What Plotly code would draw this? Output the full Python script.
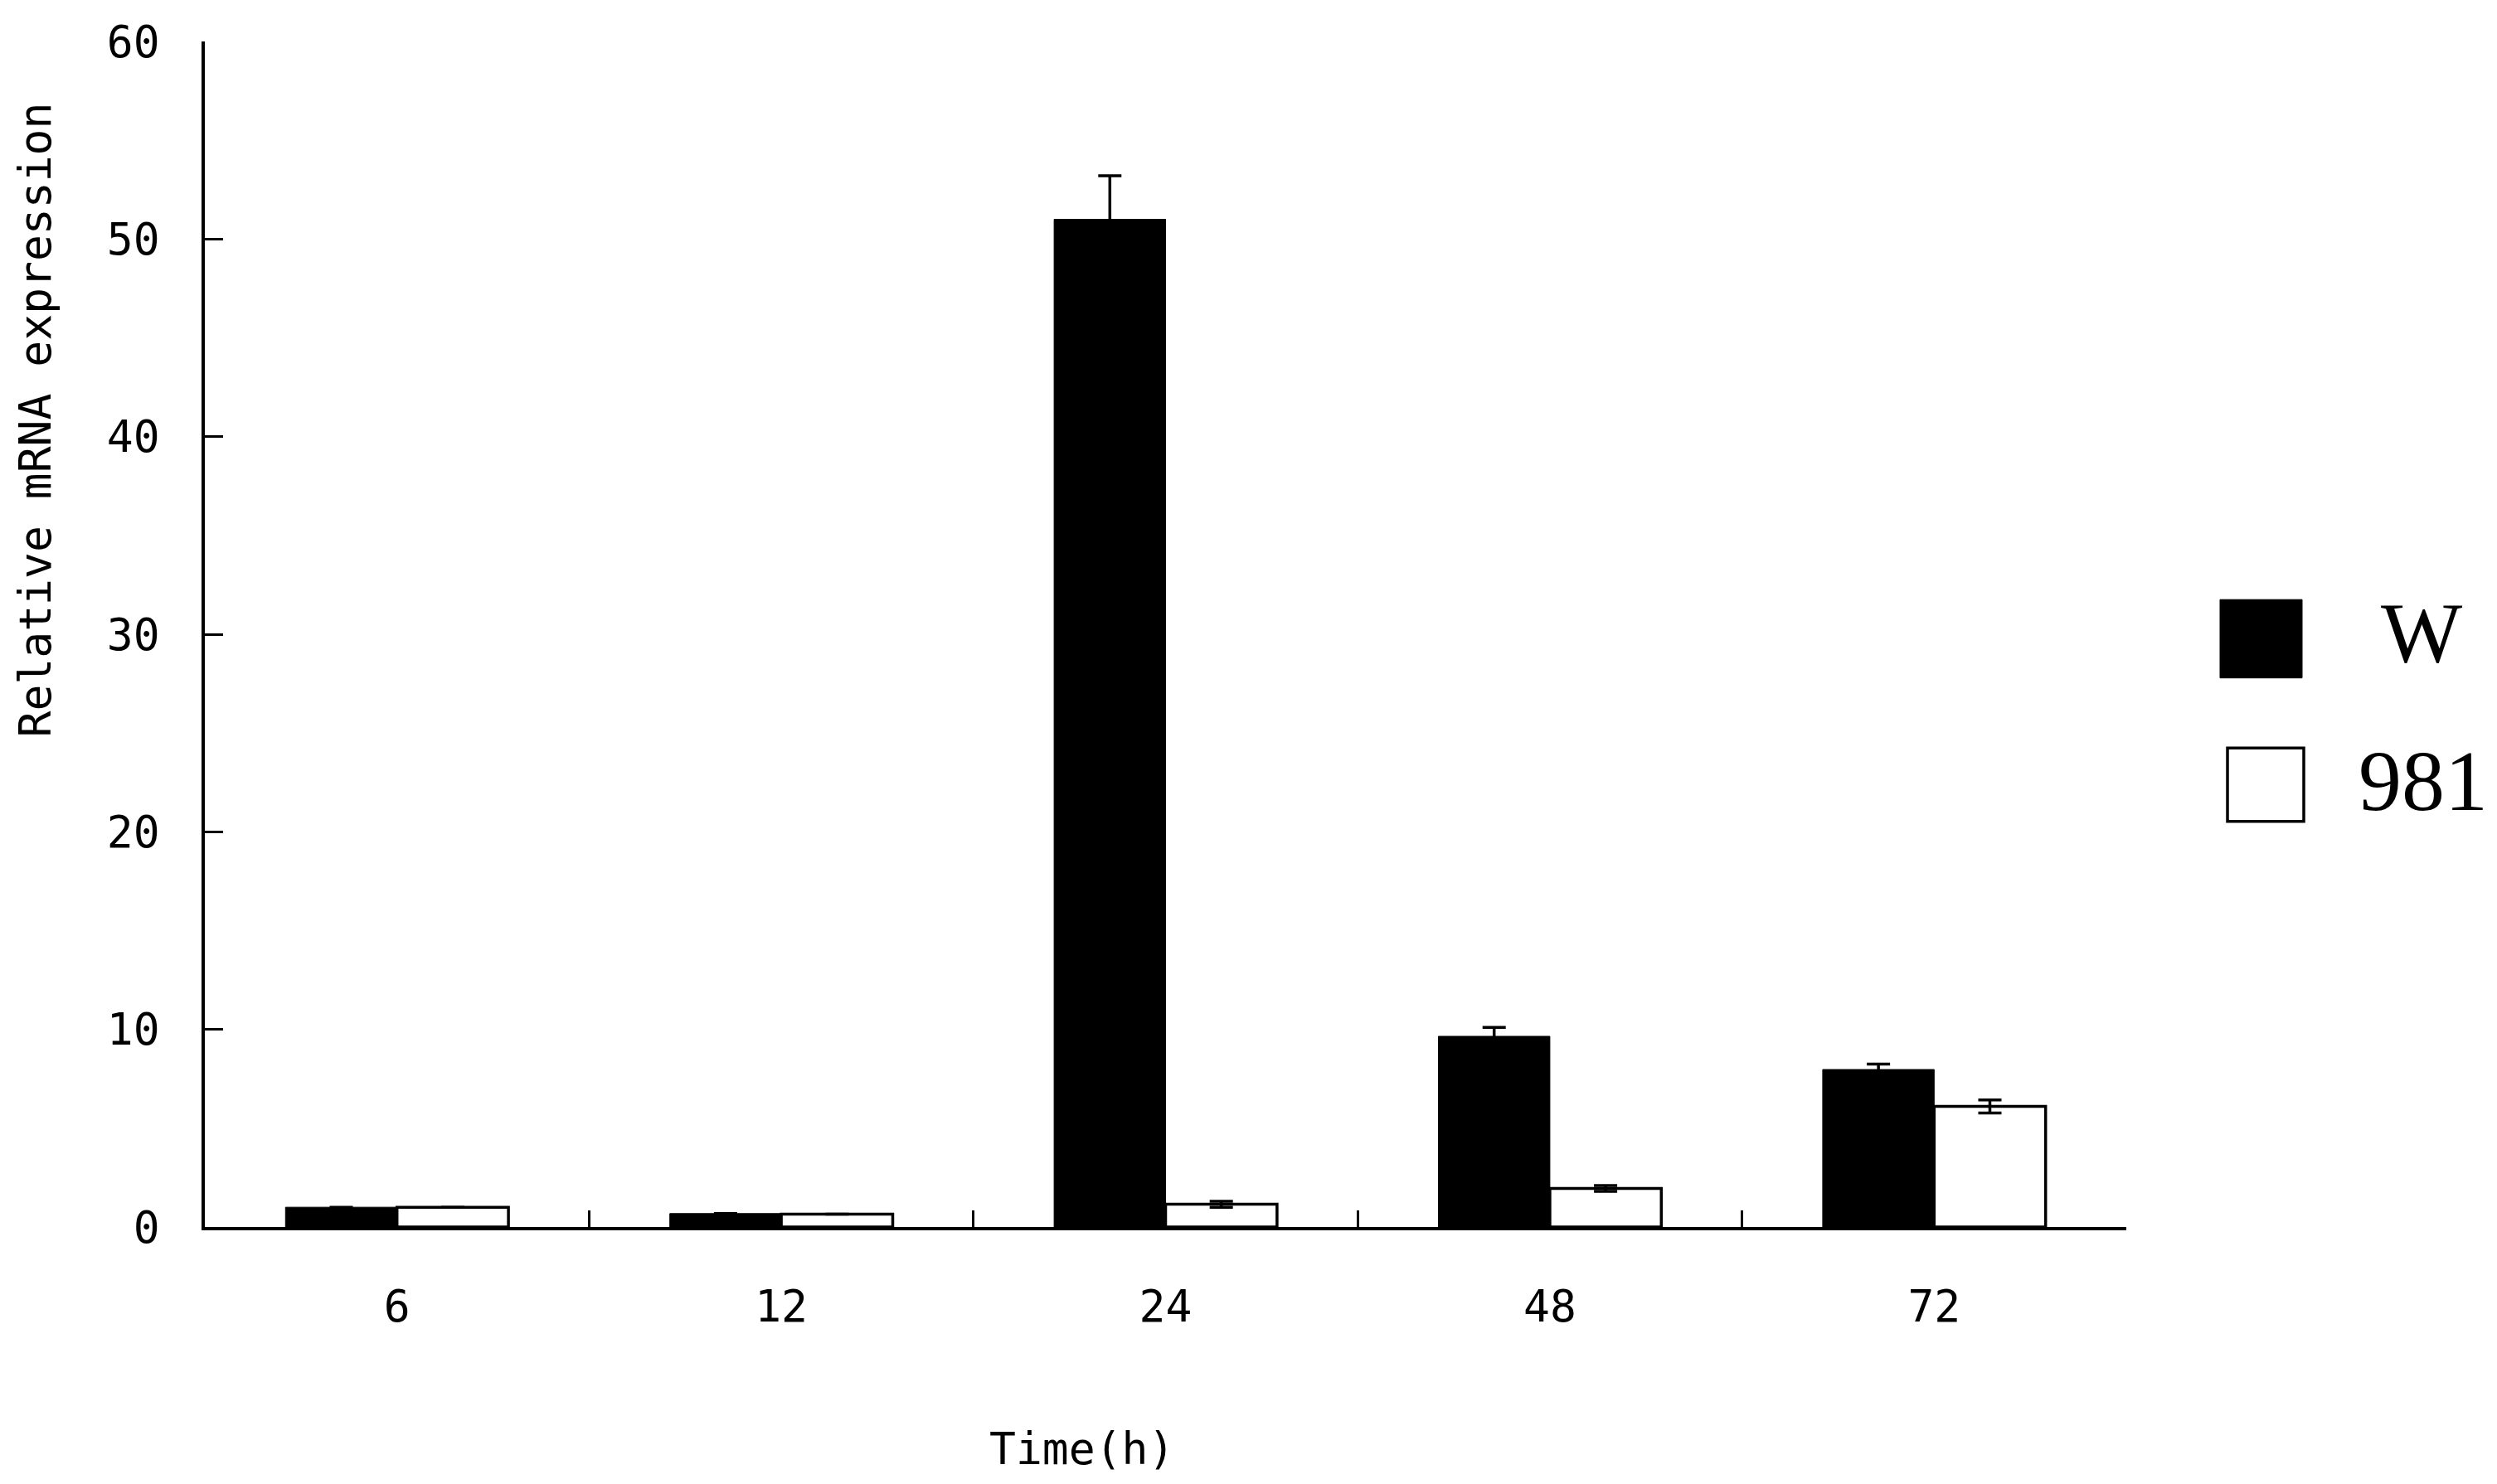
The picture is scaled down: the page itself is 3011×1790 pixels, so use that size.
import plotly.graph_objects as go

# ---- data ----
times = ["6", "12", "24", "48", "72"]
w_values = [1.0, 0.68, 51.0, 9.65, 7.97]
w_errors = [0.0, 0.0, 2.2, 0.45, 0.28]
m981_values = [1.0, 0.65, 1.15, 1.95, 6.1]
m981_errors = [0.0, 0.0, 0.15, 0.15, 0.33]
series_names = ["W", "981"]
y_ticks = [0, 10, 20, 30, 40, 50, 60]

OFF = 8  # page body margin
W, H = 3011 - OFF, 1790 - OFF
L, R, T, B = 247 - OFF, 2564 - OFF, 42 - OFF, 1480 - OFF
PW, PH = R - L, B - T

def px(x):
    return (x - OFF - L) / PW

def py(y):
    return (B - (y - OFF)) / PH

mono = "DejaVu Sans Mono"

fig = go.Figure()
fig.add_trace(go.Bar(
    x=times, y=w_values, name=series_names[0],
    marker=dict(color="black", line=dict(color="black", width=1)),
    error_y=dict(type="data", array=w_errors, symmetric=True,
                 color="black", thickness=3.5, width=14),
))
fig.add_trace(go.Bar(
    x=times, y=m981_values, name=series_names[1],
    marker=dict(color="white", line=dict(color="black", width=3.5)),
    error_y=dict(type="data", array=m981_errors, symmetric=True,
                 color="black", thickness=3.5, width=14),
))

fig.update_layout(
    width=W, height=H,
    margin=dict(l=L, r=W - R, t=T, b=H - B),
    paper_bgcolor="white", plot_bgcolor="white",
    barmode="group", bargap=0.42, bargroupgap=0,
    showlegend=False,
    font=dict(family=mono, size=53, color="black"),
)
fig.update_xaxes(
    type="category", showline=True, linecolor="black", linewidth=3.5,
    ticks="inside", tickson="boundaries", ticklen=20, tickwidth=3,
    tickcolor="black", showgrid=False, zeroline=False,
    tickfont=dict(family=mono, size=53, color="black"),
    ticklabelstandoff=47,
)
fig.update_yaxes(
    range=[0, 60], tickvals=y_ticks, ticktext=[str(v) for v in y_ticks],
    showline=True, linecolor="black", linewidth=3.5,
    ticks="inside", ticklen=22, tickwidth=3, tickcolor="black",
    showgrid=False, zeroline=False,
    tickfont=dict(family=mono, size=53, color="black"),
    ticklabelstandoff=40,
)

# axis titles
fig.add_annotation(text="Relative mRNA expression", xref="paper", yref="paper",
                   x=px(42), y=py(501), textangle=-90, showarrow=False,
                   xanchor="center", yanchor="middle",
                   font=dict(family=mono, size=53, color="black"))
fig.add_annotation(text="Time(h)", xref="paper", yref="paper",
                   x=px(1304), y=py(1749), showarrow=False,
                   xanchor="center", yanchor="middle",
                   font=dict(family=mono, size=53, color="black"))

# legend (drawn manually to match large swatches)
fig.add_shape(type="rect", xref="paper", yref="paper",
              x0=px(2677), x1=px(2776), y0=py(814), y1=py(719),
              fillcolor="black", line=dict(color="black", width=1))
fig.add_shape(type="rect", xref="paper", yref="paper",
              x0=px(2686), x1=px(2778), y0=py(988), y1=py(899),
              fillcolor="white", line=dict(color="black", width=3.5))
fig.add_annotation(text=series_names[0], xref="paper", yref="paper",
                   x=px(2920), y=py(758), showarrow=False,
                   xanchor="center", yanchor="middle",
                   font=dict(family="Liberation Serif", size=104, color="black"))
fig.add_annotation(text=series_names[1], xref="paper", yref="paper",
                   x=px(2922), y=py(938), showarrow=False,
                   xanchor="center", yanchor="middle",
                   font=dict(family="Liberation Serif", size=104, color="black"))

fig.write_html("out.html")
